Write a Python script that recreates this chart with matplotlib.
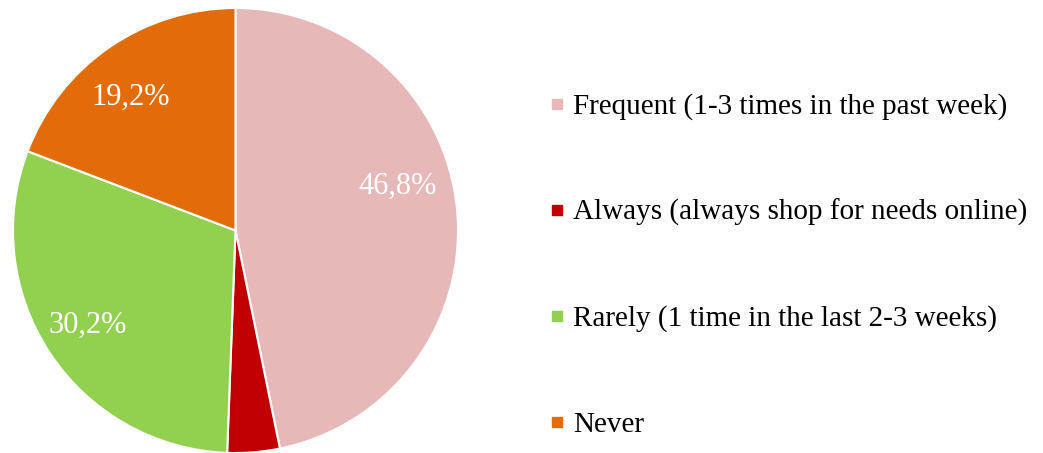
import matplotlib
matplotlib.use("Agg")
import matplotlib.pyplot as plt
from matplotlib.lines import Line2D
import numpy as np

categories = ["Frequent (1-3 times in the past week)",
              "Always (always shop for needs online)",
              "Rarely (1 time in the last 2-3 weeks)",
              "Never"]
values = [46.8, 3.8, 30.2, 19.2]
colors = ["#E6B8B7", "#C00000", "#92D050", "#E36C0A"]
show_label = [True, False, True, True]
# label placement (angle shift in degrees, radial distance) relative to wedge middle
label_shift = [9.5, 0.0, -1.0, 3.5]
label_dist = [0.755, 0.7, 0.79, 0.762]

plt.rcParams['font.family'] = ['Liberation Serif', 'DejaVu Serif']

fig = plt.figure(figsize=(10.43, 4.53), dpi=100)
ax = fig.add_axes([13/1043, 0.0, 445/1043, 445/453])

wedges, _ = ax.pie(values, colors=colors, startangle=90, counterclock=False,
                   wedgeprops=dict(edgecolor="white", linewidth=1.5))
ax.set_xlim(-1, 1)
ax.set_ylim(-1, 1)
ax.set_aspect("equal")
ax.axis("off")

for w, v, show, sh, d in zip(wedges, values, show_label, label_shift, label_dist):
    if not show:
        continue
    mid = (w.theta1 + w.theta2) / 2 + sh
    x = d * np.cos(np.radians(mid))
    y = d * np.sin(np.radians(mid))
    ax.text(x, y, f"{v:.1f}%".replace(".", ","), color="white", fontsize=22,
            ha="center", va="center")

handles = [Line2D([], [], marker="s", linestyle="None", markersize=7.5,
                  markerfacecolor=c, markeredgecolor=c) for c in colors]
fig.legend(handles, categories, loc="center left", bbox_to_anchor=(0.5257, 0.414),
           frameon=False, fontsize=21, labelspacing=2.71, handlelength=0.6,
           handletextpad=0.25, borderpad=0.0, borderaxespad=0.0)

fig.savefig("out.png", dpi=100, facecolor="white")
